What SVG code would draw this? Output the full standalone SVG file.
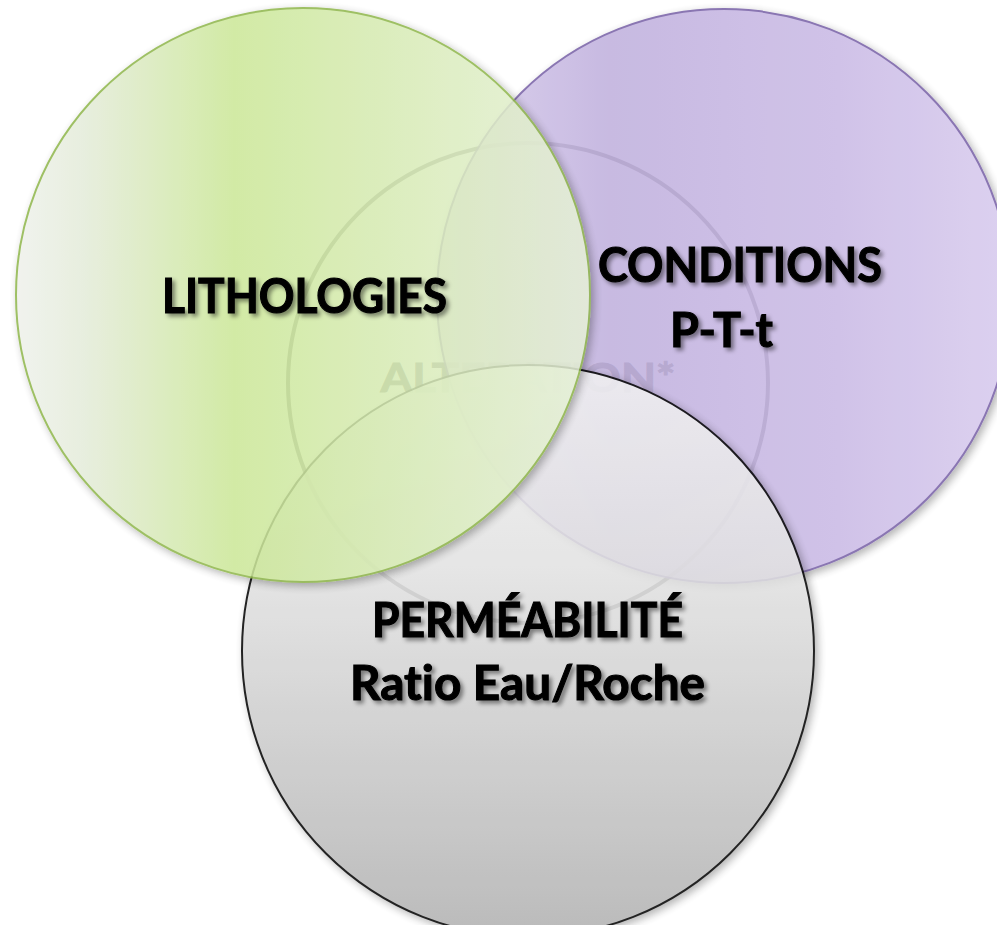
<svg xmlns="http://www.w3.org/2000/svg" width="997" height="925" viewBox="0 0 997 925">
<defs>
<style>
.lbl{font-family:Lato,"Liberation Sans",sans-serif;font-weight:700;fill:#000;stroke:#000;stroke-width:1.1px;font-size:47px;font-variant-ligatures:none;filter:url(#tsh)}
.mid{font-family:Lato,"Liberation Sans",sans-serif;font-weight:700;fill:#7a7a7a;stroke:#7a7a7a;stroke-width:1px;font-size:41px;font-variant-ligatures:none}
</style>
<linearGradient id="gGreen" x1="16" y1="0" x2="590" y2="0" gradientUnits="userSpaceOnUse">
<stop offset="0" stop-color="#eff1ec"/>
<stop offset="0.12" stop-color="#e4ecd9"/>
<stop offset="0.38" stop-color="#cbe797"/>
<stop offset="0.7" stop-color="#d9ecb9"/>
<stop offset="1" stop-color="#e6f0d8"/>
</linearGradient>
<linearGradient id="gPurple" x1="437" y1="0" x2="1011" y2="0" gradientUnits="userSpaceOnUse">
<stop offset="0" stop-color="#d8cdec"/>
<stop offset="0.3" stop-color="#bfafdd"/>
<stop offset="0.7" stop-color="#c9b9e5"/>
<stop offset="1" stop-color="#d7caee"/>
</linearGradient>
<linearGradient id="gGray" x1="0" y1="365" x2="0" y2="937" gradientUnits="userSpaceOnUse">
<stop offset="0" stop-color="#f2f2f2"/>
<stop offset="0.35" stop-color="#e2e2e2"/>
<stop offset="1" stop-color="#b0b0b0"/>
</linearGradient>
<filter id="sh" x="-10%" y="-10%" width="125%" height="125%">
<feGaussianBlur in="SourceAlpha" stdDeviation="4"/>
<feOffset dx="3" dy="3" result="b"/>
<feFlood flood-color="#000" flood-opacity="0.35"/>
<feComposite in2="b" operator="in" result="s"/>
<feMerge><feMergeNode in="s"/><feMergeNode in="SourceGraphic"/></feMerge>
</filter>
<filter id="tsh" x="-10%" y="-20%" width="120%" height="150%">
<feGaussianBlur in="SourceAlpha" stdDeviation="2"/>
<feOffset dx="2.5" dy="3" result="b"/>
<feFlood flood-color="#000" flood-opacity="0.45"/>
<feComposite in2="b" operator="in" result="s"/>
<feMerge><feMergeNode in="s"/><feMergeNode in="SourceGraphic"/></feMerge>
</filter>
</defs>
<rect width="997" height="925" fill="#fff"/>
<g id="alteration">
<circle cx="528" cy="383" r="240" fill="none" stroke="#808080" stroke-width="4"/>
<text class="mid" x="528" y="392" text-anchor="middle" textLength="295" lengthAdjust="spacingAndGlyphs">ALTERATION*</text>
</g>
<g id="conditions">
<g opacity="0.86" filter="url(#sh)">
<circle cx="724" cy="296" r="287" fill="url(#gPurple)" stroke="#7760a6" stroke-width="2"/>
</g>
</g>
<g id="permeabilite">
<g opacity="0.86" filter="url(#sh)">
<circle cx="528" cy="651" r="286" fill="url(#gGray)" stroke="#000" stroke-width="2"/>
</g>
</g>
<g id="lithologies">
<g opacity="0.86" filter="url(#sh)">
<circle cx="303" cy="295" r="287" fill="url(#gGreen)" stroke="#8fb64c" stroke-width="2"/>
</g>
</g>
<g id="connectors"></g>
<g id="labels">
<text class="lbl" x="162" y="313" textLength="285" lengthAdjust="spacingAndGlyphs">LITHOLOGIES</text>
<text class="lbl" x="598" y="282" textLength="284" lengthAdjust="spacingAndGlyphs">CONDITIONS</text>
<text class="lbl" x="670" y="347" textLength="103" lengthAdjust="spacingAndGlyphs">P-T-t</text>
<text class="lbl" x="372" y="637" textLength="311" lengthAdjust="spacingAndGlyphs">PERMÉABILITÉ</text>
<text class="lbl" x="350" y="700" textLength="355" lengthAdjust="spacingAndGlyphs">Ratio Eau/Roche</text>
</g>
</svg>
